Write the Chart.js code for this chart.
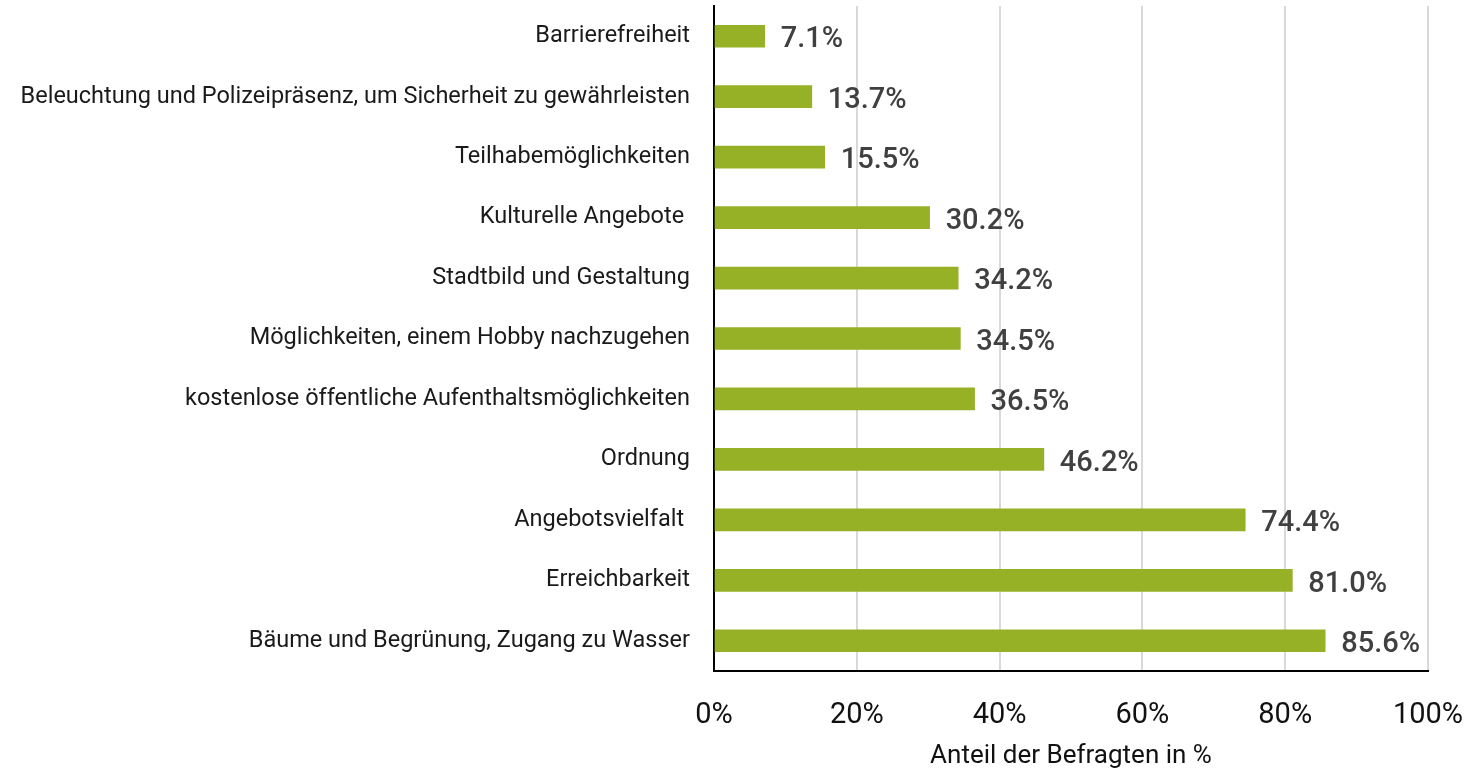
<!DOCTYPE html>
<html lang="de">
<head>
<meta charset="utf-8">
<title>Anteil der Befragten</title>
<script src="https://cdn.jsdelivr.net/npm/chart.js@4/dist/chart.umd.min.js"></script>
<style>
  html, body { margin: 0; padding: 0; background: #ffffff; }
  #wrap { position: relative; width: 1479px; height: 772px; }
</style>
</head>
<body>
<div id="wrap"><canvas id="chart"></canvas></div>
<script>
// categories, top to bottom as shown
const categories = [
  'Barrierefreiheit',
  'Beleuchtung und Polizeipräsenz, um Sicherheit zu gewährleisten',
  'Teilhabemöglichkeiten',
  'Kulturelle Angebote ',
  'Stadtbild und Gestaltung',
  'Möglichkeiten, einem Hobby nachzugehen',
  'kostenlose öffentliche Aufenthaltsmöglichkeiten',
  'Ordnung',
  'Angebotsvielfalt ',
  'Erreichbarkeit',
  'Bäume und Begrünung, Zugang zu Wasser'
];

// share of respondents, %
const shares = [7.1, 13.7, 15.5, 30.2, 34.2, 34.5, 36.5, 46.2, 74.4, 81.0, 85.6];

const xTicks = [0, 20, 40, 60, 80, 100];
const xTitle = 'Anteil der Befragten in %';

const FONT = 'Roboto, "DejaVu Sans", sans-serif';

// value labels to the right of each bar
const valueLabels = {
  id: 'valueLabels',
  afterDatasetsDraw(chart) {
    const { ctx } = chart;
    const meta = chart.getDatasetMeta(0);
    ctx.save();
    ctx.font = '500 29px ' + FONT;
    ctx.fillStyle = '#404040';
    ctx.textAlign = 'left';
    ctx.textBaseline = 'middle';
    meta.data.forEach((bar, i) => {
      ctx.fillText(shares[i].toFixed(1) + '%', bar.x + 16, bar.y + 4);
    });
    ctx.restore();
  }
};

new Chart(document.getElementById('chart').getContext('2d'), {
  type: 'bar',
  data: {
    labels: categories,
    datasets: [{
      data: shares,
      backgroundColor: '#97b126',
      borderWidth: 0,
      barThickness: 22
    }]
  },
  options: {
    indexAxis: 'y',
    responsive: true,
    maintainAspectRatio: false,
    animation: false,
    layout: { padding: { top: 6, right: 51, left: 0, bottom: 0 } },
    scales: {
      x: {
        min: 0,
        max: 100,
        afterBuildTicks: (axis) => { axis.ticks = xTicks.map((v) => ({ value: v })); },
        grid: { color: '#d9d9d9', lineWidth: 2, drawTicks: false },
        border: { display: true, color: '#000000', width: 2 },
        ticks: {
          color: '#111111',
          font: { family: FONT, size: 29 },
          padding: 27,
          callback: (v) => v + '%'
        },
        title: {
          display: true,
          text: xTitle,
          color: '#111111',
          font: { family: FONT, size: 26 },
          padding: { top: 10, bottom: 0 }
        },
        afterFit: (axis) => {
          axis.height = 101;
          axis.paddingLeft = 0;
          axis.paddingRight = 0;
        }
      },
      y: {
        grid: { display: false, drawTicks: false },
        border: { display: true, color: '#000000', width: 2 },
        ticks: {
          color: '#1a1a1a',
          font: { family: FONT, size: 23.5, lineHeight: 1.0 },
          padding: 24
        },
        afterFit: (axis) => {
          axis.width = 714;
          axis.paddingTop = 0;
          axis.paddingBottom = 0;
        }
      }
    },
    plugins: {
      legend: { display: false },
      tooltip: { enabled: false }
    }
  },
  plugins: [valueLabels]
});
</script>
</body>
</html>
